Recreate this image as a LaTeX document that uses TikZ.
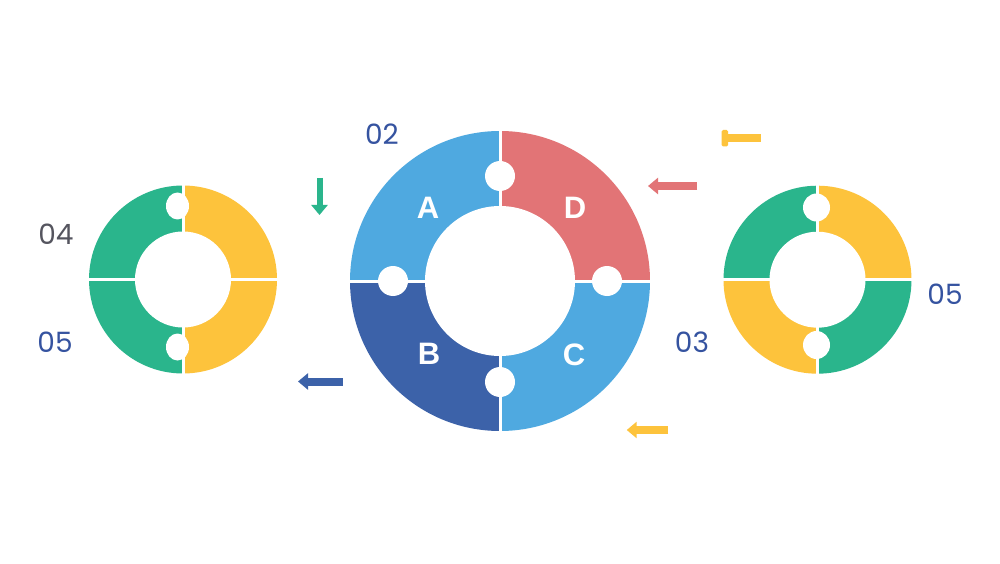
\documentclass[tikz,border=0pt]{standalone}
\usepackage{fontspec}
\setmainfont{Poppins}
\newfontfamily\letterfont{Liberation Sans}
\usetikzlibrary{arrows.meta}
\definecolor{lblue}{HTML}{4FA9E0}
\definecolor{dblue}{HTML}{3C62A9}
\definecolor{salmon}{HTML}{E27476}
\definecolor{mint}{HTML}{2AB58C}
\definecolor{sun}{HTML}{FDC33C}
\definecolor{numblue}{HTML}{3553A0}
\definecolor{numgray}{HTML}{55555F}
\tikzset{
  letter/.style={text=white,font=\letterfont\bfseries\fontsize{31}{34}\selectfont,inner sep=0pt},
  num/.style={font=\fontsize{28}{32}\selectfont,inner sep=0pt},
  gapline/.style={white,line width=3pt},
  notch/.style={fill=white},
  arr/.style={line width=#1,-{Triangle[width=16pt,length=10pt]}},
}
\begin{document}
\begin{tikzpicture}[x=1pt,y=1pt]
\useasboundingbox (0,0) rectangle (1000,563);
\fill[white] (0,0) rectangle (1000,563);

% ---------- central ring ----------
\coordinate (c0) at (500,282);
\fill[lblue]  (c0) -- ++(90:150)  arc[start angle=90, end angle=180,radius=150] -- cycle;
\fill[salmon] (c0) -- ++(0:150)   arc[start angle=0,  end angle=90, radius=150] -- cycle;
\fill[dblue]  (c0) -- ++(180:150) arc[start angle=180,end angle=270,radius=150] -- cycle;
\fill[lblue]  (c0) -- ++(270:150) arc[start angle=270,end angle=360,radius=150] -- cycle;
\draw[gapline] (c0) ++(-152,0) -- ++(304,0);
\draw[gapline] (c0) ++(0,-152) -- ++(0,304);
\fill[white] (c0) circle[radius=75];
\fill[notch] (c0) ++(0,105) circle[radius=15];
\fill[notch] (c0) ++(0,-101) circle[radius=15];
\fill[notch] (c0) ++(-107,0) circle[radius=15];
\fill[notch] (c0) ++(107,0) circle[radius=15];
\node[letter] (lA) at (428,355) {A};
\node[letter] (lD) at (575,355) {D};
\node[letter] (lB) at (429,209) {B};
\node[letter] (lC) at (574,208) {C};

% ---------- left ring ----------
\coordinate (c1) at (183,283.5);
\fill[mint] (c1) -- ++(90:94) arc[start angle=90,end angle=270,radius=94] -- cycle;
\fill[sun]  (c1) -- ++(90:94) arc[start angle=90,end angle=-90,radius=94] -- cycle;
\draw[gapline] (c1) ++(-96,0) -- ++(192,0);
\draw[gapline] (c1) ++(0,-96) -- ++(0,192);
\fill[white] (c1) circle[radius=48];
\fill[notch] (177.5,357) ellipse[x radius=11.5,y radius=13.5];
\fill[notch] (177.5,216) ellipse[x radius=11.5,y radius=13.5];

% ---------- right ring ----------
\coordinate (c2) at (817.5,283.3);
\fill[mint] (c2) -- ++(90:94)  arc[start angle=90, end angle=180,radius=94] -- cycle;
\fill[sun]  (c2) -- ++(0:94)   arc[start angle=0,  end angle=90, radius=94] -- cycle;
\fill[sun]  (c2) -- ++(180:94) arc[start angle=180,end angle=270,radius=94] -- cycle;
\fill[mint] (c2) -- ++(270:94) arc[start angle=270,end angle=360,radius=94] -- cycle;
\draw[gapline] (c2) ++(-96,0) -- ++(192,0);
\draw[gapline] (c2) ++(0,-96) -- ++(0,192);
\fill[white] (c2) circle[radius=48];
\fill[notch] (816.5,355.5) ellipse[x radius=13.5,y radius=14];
\fill[notch] (816.5,218) ellipse[x radius=13.5,y radius=14];

% ---------- numbers ----------
\node[num,text=numblue] (n02) at (382,429) {02};
\node[num,text=numgray] (n04) at (56,328.5) {04};
\node[num,text=numblue] (n05a) at (55,220.5) {05};
\node[num,text=numblue] (n03) at (692,220.5) {03};
\node[num,text=numblue] (n05b) at (945,269) {05};

% ---------- arrows ----------
\coordinate (g1) at (319.5,385);  \coordinate (g2) at (319.5,348);
\draw[mint,arr=6pt] (g1) -- (g2);
\coordinate (b1) at (342.7,181.5); \coordinate (b2) at (298,181.5);
\draw[dblue,arr=8pt] (b1) -- (b2);
\coordinate (r1) at (697,377); \coordinate (r2) at (648,377);
\draw[salmon,arr=8pt] (r1) -- (r2);
\coordinate (y1) at (668,133); \coordinate (y2) at (626.7,133);
\draw[sun,arr=8pt] (y1) -- (y2);
\coordinate (t1) at (760.7,425); \coordinate (t2) at (725,425);
\draw[sun,line width=7.5pt] (t1) -- (t2);
\fill[sun,rounded corners=1.5pt] (721.5,416.5) rectangle (728,433);
\end{tikzpicture}
\end{document}
